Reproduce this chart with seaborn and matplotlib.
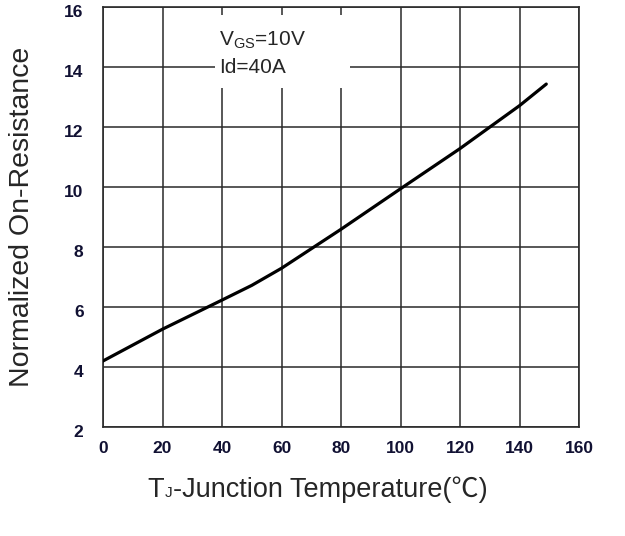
import matplotlib
matplotlib.use("Agg")
import matplotlib.pyplot as plt
import matplotlib.transforms as mtransforms
import seaborn as sns
import pandas as pd
from matplotlib.patches import Rectangle

# Data
temperature = [0, 20, 40, 50, 60, 80, 100, 120, 140, 149]
on_resistance = [4.2, 5.26, 6.23, 6.72, 7.29, 8.59, 9.94, 11.28, 12.71, 13.43]
x_ticks = [0, 20, 40, 60, 80, 100, 120, 140, 160]
y_ticks = [2, 4, 6, 8, 10, 12, 14, 16]

df = pd.DataFrame({"T": temperature, "R": on_resistance})

sns.set_style("white")
plt.rcParams["font.family"] = ["Liberation Sans", "Noto Sans CJK SC", "DejaVu Sans"]
plt.rcParams["mathtext.fontset"] = "custom"
plt.rcParams["mathtext.rm"] = "Liberation Sans"
plt.rcParams["mathtext.it"] = "Liberation Sans"

fig = plt.figure(figsize=(6.25, 5.36), dpi=100)
ax = fig.add_axes([0.1648, 0.2034, 0.7616, 0.7836])

sns.lineplot(data=df, x="T", y="R", color="black", linewidth=2.3, ax=ax, zorder=5)

ax.set_xlim(0, 160)
ax.set_ylim(2, 16)
ax.set_xticks(x_ticks)
ax.set_yticks(y_ticks)
ax.set_xticklabels([str(v) for v in x_ticks])
ax.set_yticklabels([str(v) for v in y_ticks])
ax.tick_params(axis="both", length=0, labelsize=12.5, colors="#111133")
ax.tick_params(axis="y", pad=14)
ax.tick_params(axis="x", pad=10)
for lbl in ax.get_xticklabels() + ax.get_yticklabels():
    lbl.set_fontweight("bold")
shift = mtransforms.ScaledTranslation(0, -3 / 72, fig.dpi_scale_trans)
for lbl in ax.get_yticklabels():
    lbl.set_transform(lbl.get_transform() + shift)

ax.grid(True, color="#2a2a2a", linewidth=1.1)
for s in ax.spines.values():
    s.set_color("#2a2a2a")
    s.set_linewidth(1.2)
    s.set_visible(True)

# white box behind annotation
ax.add_patch(Rectangle((0.235, 0.807), 0.284, 0.174, transform=ax.transAxes,
                       facecolor="white", edgecolor="none", zorder=3))
ax.text(0.244, 0.921, r"V$_{\mathregular{GS}}$=10V", transform=ax.transAxes,
        fontsize=15, va="center", ha="left", zorder=6)
ax.text(0.244, 0.857, "Id=40A", transform=ax.transAxes,
        fontsize=15, va="center", ha="left", zorder=6)

ax.set_ylabel("Normalized On-Resistance", fontsize=20.5)
ax.yaxis.set_label_coords(-0.170, 0.5)
ax.yaxis.label.set_va("center")
ax.set_xlabel("")

# x label composed of pieces: T, subscript J, rest (with ℃ via font fallback)
fs = 19.5
t1 = ax.text(0.094, -0.118, "T", transform=ax.transAxes, fontsize=fs,
             ha="left", va="top", clip_on=False)
t2 = ax.annotate("J", xy=(1, 0), xycoords=t1, xytext=(0.3, 1.5),
                 textcoords="offset points", fontsize=11, ha="left", va="bottom",
                 annotation_clip=False)
t3 = ax.annotate("-Junction Temperature(℃)", xy=(1, 0), xycoords=(t2, t1),
                 xytext=(0.3, 0), textcoords="offset points", fontsize=fs,
                 ha="left", va="bottom", annotation_clip=False)

fig.savefig("out.png", dpi=100, facecolor="white")
